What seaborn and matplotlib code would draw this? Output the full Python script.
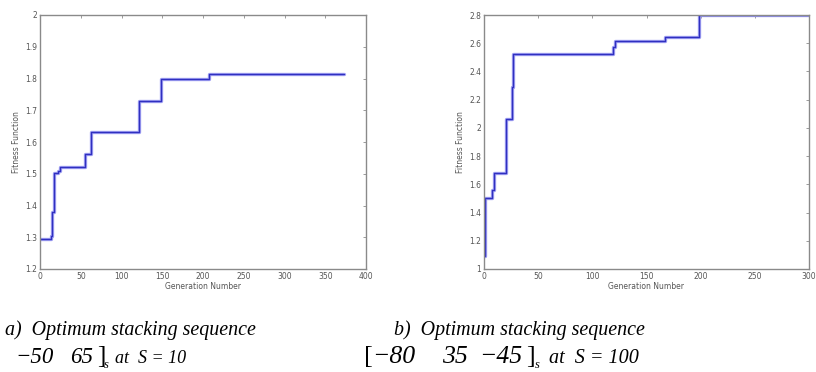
import numpy as np
import pandas as pd
import matplotlib
matplotlib.use("Agg")
import matplotlib.pyplot as plt
import seaborn as sns
from matplotlib.ticker import FuncFormatter

# case a) S = 10 : best fitness per generation (step curve)
gen_a = [0, 13, 15, 17, 22, 25, 55, 62, 121, 148, 207, 280, 373]
fit_a = [1.294, 1.305, 1.381, 1.502, 1.51, 1.52, 1.563, 1.63, 1.73, 1.80, 1.813, 1.815, 1.815]

# case b) S = 100
gen_b = [0.3, 1.2, 7.4, 9.5, 20.3, 25.8, 27, 119.5, 121, 167, 198, 300]
fit_b = [1.09, 1.50, 1.557, 1.677, 2.064, 2.29, 2.525, 2.575, 2.616, 2.647, 2.80, 2.80]

xticks_a = [0, 50, 100, 150, 200, 250, 300, 350, 400]
yticks_a = [1.2, 1.3, 1.4, 1.5, 1.6, 1.7, 1.8, 1.9, 2.0]
xticks_b = [0, 50, 100, 150, 200, 250, 300]
yticks_b = [1.0, 1.2, 1.4, 1.6, 1.8, 2.0, 2.2, 2.4, 2.6, 2.8]

sns.set_style("white")
plt.rcParams["font.family"] = ["DejaVu Sans"]

fig = plt.figure(figsize=(8.16, 3.72), dpi=100)
ax1 = fig.add_axes([40 / 816, 1 - 269 / 372, 326 / 816, 254 / 372])
ax2 = fig.add_axes([484 / 816, 1 - 269 / 372, 325 / 816, 254 / 372])

fmt = FuncFormatter(lambda v, p: "{:g}".format(round(v, 2)))

for ax, gx, fy, xt, yt in [(ax1, gen_a, fit_a, xticks_a, yticks_a),
                           (ax2, gen_b, fit_b, xticks_b, yticks_b)]:
    df = pd.DataFrame({"gen": gx, "fit": fy})
    # light halo + darker line on top, like the original screen grab
    sns.lineplot(data=df, x="gen", y="fit", ax=ax, drawstyle="steps-post",
                 color="#a4a4f4", linewidth=2.4, sort=False)
    sns.lineplot(data=df, x="gen", y="fit", ax=ax, drawstyle="steps-post",
                 color="#3030c0", linewidth=1.0, sort=False)
    ax.set_xlim(xt[0], xt[-1])
    ax.set_ylim(yt[0], yt[-1])
    ax.set_xticks(xt)
    ax.set_yticks(yt)
    ax.yaxis.set_major_formatter(fmt)
    ax.tick_params(direction="in", top=True, right=True, length=2.5, width=0.6,
                   labelsize=5.5, colors="#8a8a8a", labelcolor="#555555", pad=2)
    for s in ax.spines.values():
        s.set_color("#8a8a8a")
        s.set_linewidth(1.0)
    ax.set_xlabel("Generation Number", fontsize=5.5, color="#555555", labelpad=1)
    ax.set_ylabel("Fitness Function", fontsize=5.5, color="#555555", labelpad=3)


def put(x, y, s, size, italic=True):
    # place text by pixel position (left, baseline)
    fig.text(x / 816, 1 - y / 372, s, fontsize=size, family="Liberation Serif",
             style="italic" if italic else "normal", va="baseline", ha="left",
             color="black")


# captions under the plots
put(5, 335, "a)  Optimum stacking sequence", 14.4)
put(15, 363, "\u221250", 16.5)
put(70, 363, "65", 16.5)
put(97, 363, "]", 18, italic=False)
put(104, 368, "s", 9)
put(115, 363, "at  S = 10", 13)

put(394, 335, "b)  Optimum stacking sequence", 14.4)
put(364, 363, "[", 19, italic=False)
put(372, 363, "\u221280", 18.5)
put(442, 363, "35", 18.5)
put(479, 363, "\u221245", 18.5)
put(526, 363, "]", 19, italic=False)
put(535, 368, "s", 9)
put(549, 363, "at  S = 100", 14.5)

fig.savefig("out.png", dpi=100)
